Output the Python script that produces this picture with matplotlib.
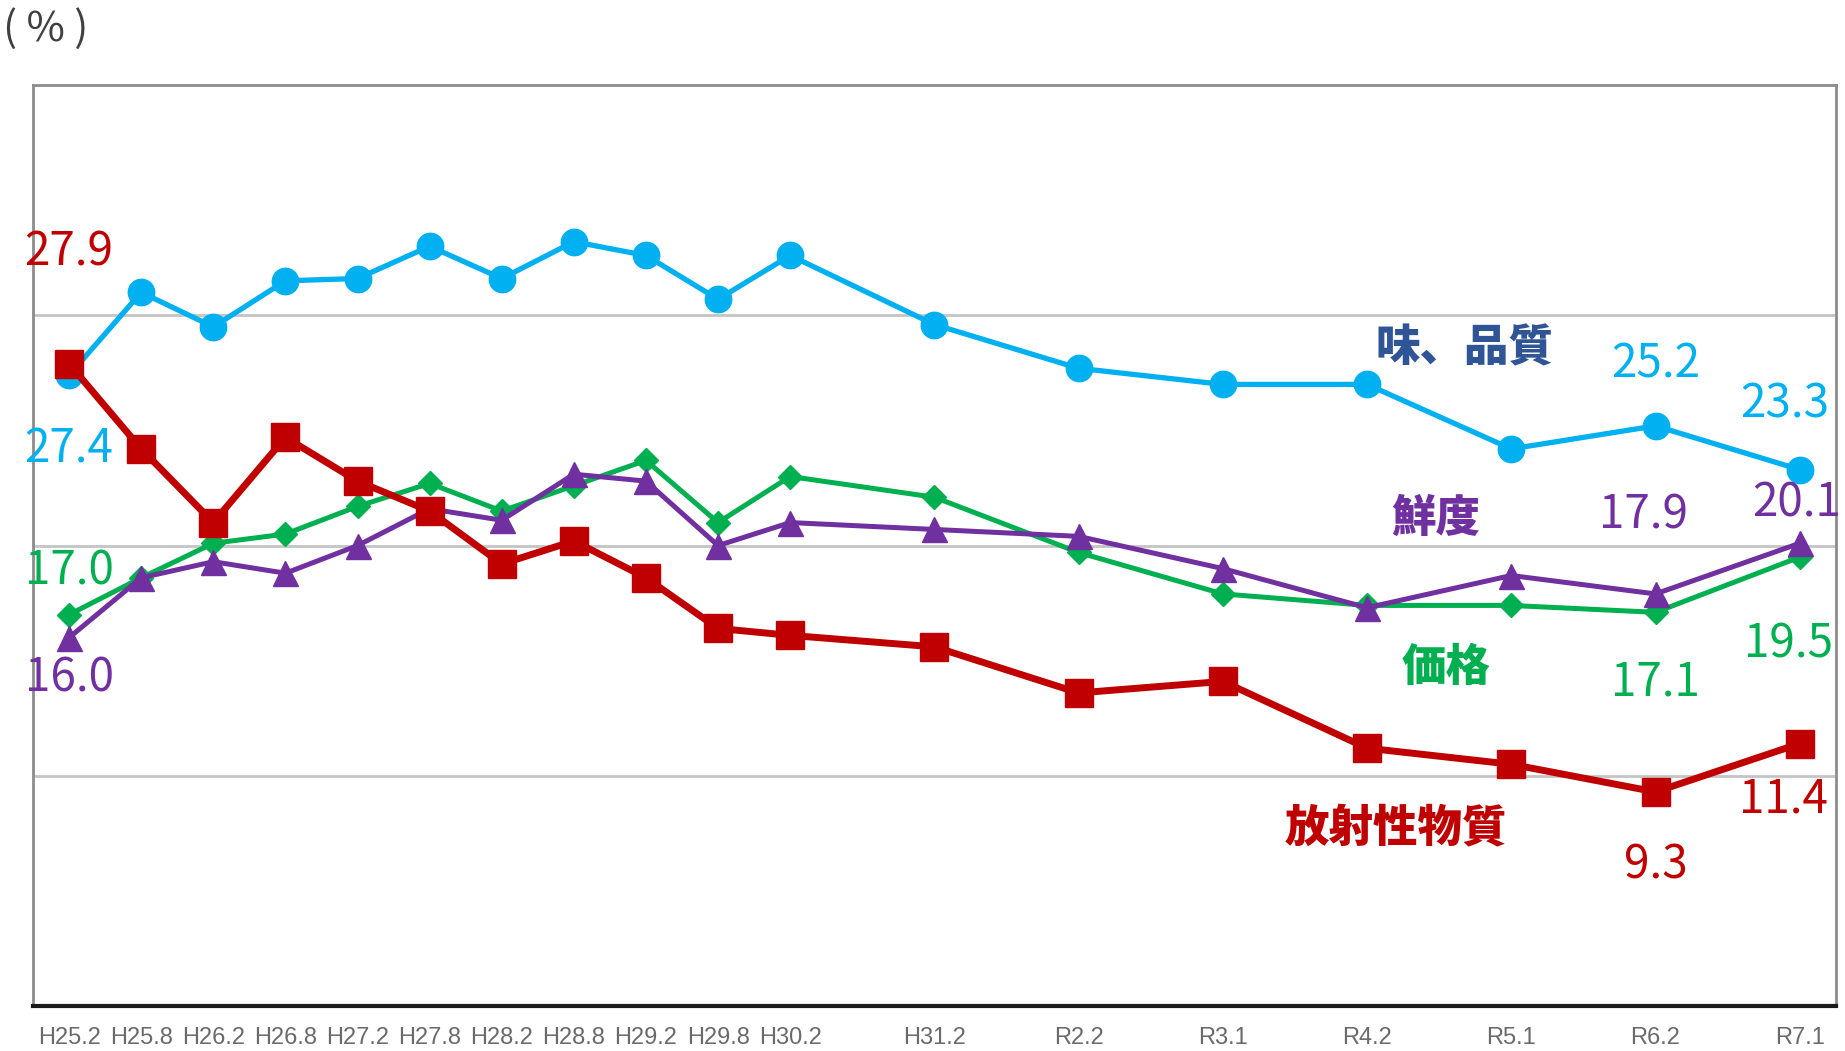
import matplotlib
matplotlib.use("Agg")
import matplotlib.pyplot as plt

plt.rcParams['font.family'] = ['Noto Sans CJK JP', 'DejaVu Sans']

# survey periods (Japanese era year.month)
periods = ["H25.2", "H25.8", "H26.2", "H26.8", "H27.2", "H27.8", "H28.2", "H28.8",
           "H29.2", "H29.8", "H30.2", "H31.2", "R2.2", "R3.1", "R4.2", "R5.1",
           "R6.2", "R7.1"]

taste = [27.4, 31.0, 29.5, 31.5, 31.6, 33.0, 31.6, 33.2, 32.6, 30.7, 32.6,
         29.6, 27.7, 27.0, 27.0, 24.2, 25.2, 23.3]
price = [17.0, 18.6, 20.1, 20.5, 21.7, 22.7, 21.5, 22.6, 23.7, 21.0, 23.0,
         22.1, 19.7, 17.9, 17.4, 17.4, 17.1, 19.5]
fresh = [16.0, 18.6, 19.3, 18.8, 20.0, 21.6, 21.1, 23.1, 22.8, 20.0, 21.0,
         20.7, 20.4, 19.0, 17.3, 18.7, 17.9, 20.1]
radio = [27.9, 24.2, 21.0, 24.7, 22.8, 21.5, 19.2, 20.2, 18.6, 16.4, 16.1,
         15.6, 13.6, 14.1, 11.2, 10.5, 9.3, 11.4]


def half_year_index(label):
    """Convert era label to half-year steps since H25 (2013)"""
    era, rest = label[0], label[1:]
    year, month = rest.split(".")
    base = 1988 if era == "H" else 2018
    y = base + int(year)
    return (y - 2013) * 2 + (1 if int(month) >= 7 else 0)


x = [half_year_index(p) for p in periods]

c_blue = "#00B0F0"
c_green = "#00B050"
c_purple = "#7030A0"
c_red = "#C00000"

fig = plt.figure(figsize=(18.45, 10.51), dpi=100)
ax = fig.add_axes([0.0179, 0.0428, 0.9771, 0.8762])

ax.plot(x, taste, color=c_blue, lw=3.8, marker="o", ms=19, zorder=3)
ax.plot(x, price, color=c_green, lw=3.6, marker="D", ms=12, zorder=4)
ax.plot(x, fresh, color=c_purple, lw=3.6, marker="^", ms=18, zorder=5)
ax.plot(x, radio, color=c_red, lw=5, marker="s", ms=20, zorder=6)

ax.set_xlim(-0.5, 24.5)
ax.set_ylim(0, 40)
ax.set_yticks([10, 20, 30])
ax.set_yticklabels([])
ax.tick_params(axis="y", length=0)
ax.grid(axis="y", color="#c4c4c4", lw=2)
ax.set_axisbelow(True)

ax.set_xticks(x)
ax.set_xticklabels(periods, color="#6a6a6a", fontsize=17,
                   family=["Liberation Sans Narrow", "Liberation Sans", "DejaVu Sans"])
ax.tick_params(axis="x", length=0, pad=15)

for s in ["left", "top", "right"]:
    ax.spines[s].set_color("#8c8c8c")
    ax.spines[s].set_linewidth(2)
ax.spines["bottom"].set_color("#1a1a1a")
ax.spines["bottom"].set_linewidth(3)


def label(series, idx, text, color, dx, dy):
    ax.annotate(text, xy=(x[idx], series[idx]), xytext=(dx, dy),
                textcoords="offset points", ha="center", va="center",
                color=color, fontsize=33, annotation_clip=False, zorder=7)


label(radio, 0, "27.9", c_red, 0, 80)
label(taste, 0, "27.4", c_blue, 0, -53)
label(price, 0, "17.0", c_green, 0, 31)
label(fresh, 0, "16.0", c_purple, 0, -29)
label(taste, 16, "25.2", c_blue, 0, 44)
label(taste, 17, "23.3", c_blue, -11, 47)
label(fresh, 16, "17.9", c_purple, -9, 57)
label(fresh, 17, "20.1", c_purple, -2, 29)
label(price, 16, "17.1", c_green, 0, -50)
label(price, 17, "19.5", c_green, -8, -63)
label(radio, 16, "9.3", c_red, 0, -53)
label(radio, 17, "11.4", c_red, -12, -40)

# series names
name_style = dict(fontsize=32, fontweight="heavy", ha="center", va="center")
ax.text(19.35, 28.6, "味、品質", color="#2F5597", **name_style)
ax.text(18.95, 21.2, "鮮度", color=c_purple, **name_style)
ax.text(19.1, 14.7, "価格", color=c_green, **name_style)
ax.text(18.4, 7.7, "放射性物質", color=c_red, **name_style)

fig.text(0.025, 0.972, "( % )", color="#404040", fontsize=30, ha="center", va="center")

fig.savefig("out.png", dpi=100)
